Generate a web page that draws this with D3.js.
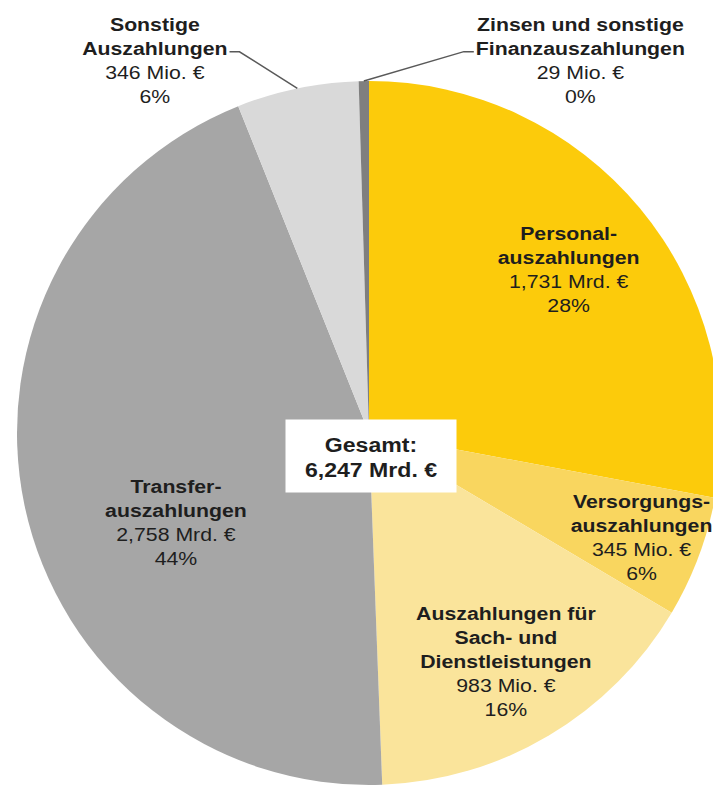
<!DOCTYPE html>
<html>
<head>
<meta charset="utf-8">
<script src="https://cdn.jsdelivr.net/npm/d3@7"></script>
<style>
  html, body { margin: 0; padding: 0; background: #fff; }
  svg { display: block; }
  text { font-family: "Liberation Sans", Arial, sans-serif; fill: #1e1e1e; }
</style>
</head>
<body>
<div id="chart"></div>
<script>
// data (Mio. €)
var names = [
  ['Personal-', 'auszahlungen'],
  ['Versorgungs-', 'auszahlungen'],
  ['Auszahlungen für', 'Sach- und', 'Dienstleistungen'],
  ['Transfer-', 'auszahlungen'],
  ['Sonstige', 'Auszahlungen'],
  ['Zinsen und sonstige', 'Finanzauszahlungen']
];
var values = [1731, 345, 983, 2758, 346, 29];
var colors = ['#fccb0b', '#f9d65f', '#fae49b', '#a6a6a6', '#d9d9d9', '#7f7f7f'];
var total = 6247;
var totalTitle = 'Gesamt:';

// layout
var W = 713, H = 786;
var cx = 369, cy = 433, R = 352;
var lineH = 24, sx = 1.12;
// label nudges from the centroid at 0.7 R
var nudges = [[10, 0], [42, 24], [11, 23], [48, 45], [-164, -125], [215, -120]];
var outside = [false, false, false, false, true, true];

var de = d3.formatLocale({decimal: ',', thousands: '.', grouping: [3], currency: ['', ' €']});
function fmtValue(v){
  return v >= 1000 ? de.format('.3f')(v / 1000) + ' Mrd. €' : v + ' Mio. €';
}
function fmtPct(v){
  return Math.round(v / total * 100) + '%';
}

var svg = d3.select('#chart').append('svg')
  .attr('width', W)
  .attr('height', H);

var pie = d3.pie().sort(null).value(function(d){ return d; });
var arcs = pie(values);
var arc = d3.arc().innerRadius(0).outerRadius(R);
var labelArc = d3.arc().innerRadius(R * 0.7).outerRadius(R * 0.7);
var edgeArc = d3.arc().innerRadius(R).outerRadius(R);

var g = svg.append('g').attr('transform', 'translate(' + cx + ',' + cy + ')');

g.selectAll('path.slice')
  .data(arcs)
  .enter().append('path')
  .attr('class', 'slice')
  .attr('d', arc)
  .attr('fill', function(d, i){ return colors[i]; });

// labels
arcs.forEach(function(d, i){
  var c = labelArc.centroid(d);
  var x = c[0] + nudges[i][0];
  var y = c[1] + nudges[i][1];
  var lines = names[i].map(function(t){ return {t: t, bold: true}; });
  lines.push({t: fmtValue(values[i]), bold: false});
  lines.push({t: fmtPct(values[i]), bold: false});
  var n = lines.length;

  var lg = g.append('g')
    .attr('transform', 'translate(' + x + ',' + y + ') scale(' + sx + ',1)');

  var texts = lg.selectAll('text')
    .data(lines)
    .enter().append('text')
    .attr('x', 0)
    .attr('y', function(l, j){ return (j - (n - 1) / 2) * lineH; })
    .attr('text-anchor', 'middle')
    .style('font-size', '19px')
    .style('font-weight', function(l){ return l.bold ? 'bold' : 'normal'; })
    .text(function(l){ return l.t; });

  if(outside[i]){
    // leader from the second name line to the slice edge
    var node = texts.nodes()[1];
    var half = node.getComputedTextLength() * sx / 2;
    var ly = y + (1 - (n - 1) / 2) * lineH - 3;
    var e = edgeArc.centroid(d);
    var side = e[0] > x ? 1 : -1;
    var x0 = x + side * (half + 2);
    var x1 = x0 + side * 10;
    g.append('polyline')
      .attr('points', [[x0, ly], [x1, ly], e].map(function(p){ return p.join(','); }).join(' '))
      .attr('fill', 'none')
      .attr('stroke', '#595959')
      .attr('stroke-width', 1.5);
  }
});

// total box
var box = g.append('g').attr('transform', 'translate(2,23)');
box.append('rect')
  .attr('x', -85.5)
  .attr('y', -36.5)
  .attr('width', 171)
  .attr('height', 73)
  .attr('fill', '#fff');
box.selectAll('text')
  .data([totalTitle, fmtValue(total)])
  .enter().append('text')
  .attr('transform', function(t, j){ return 'translate(0,' + (-4 + j * 25) + ') scale(1.1,1)'; })
  .attr('text-anchor', 'middle')
  .style('font-size', '21px')
  .style('font-weight', 'bold')
  .text(function(t){ return t; });
</script>
</body>
</html>
